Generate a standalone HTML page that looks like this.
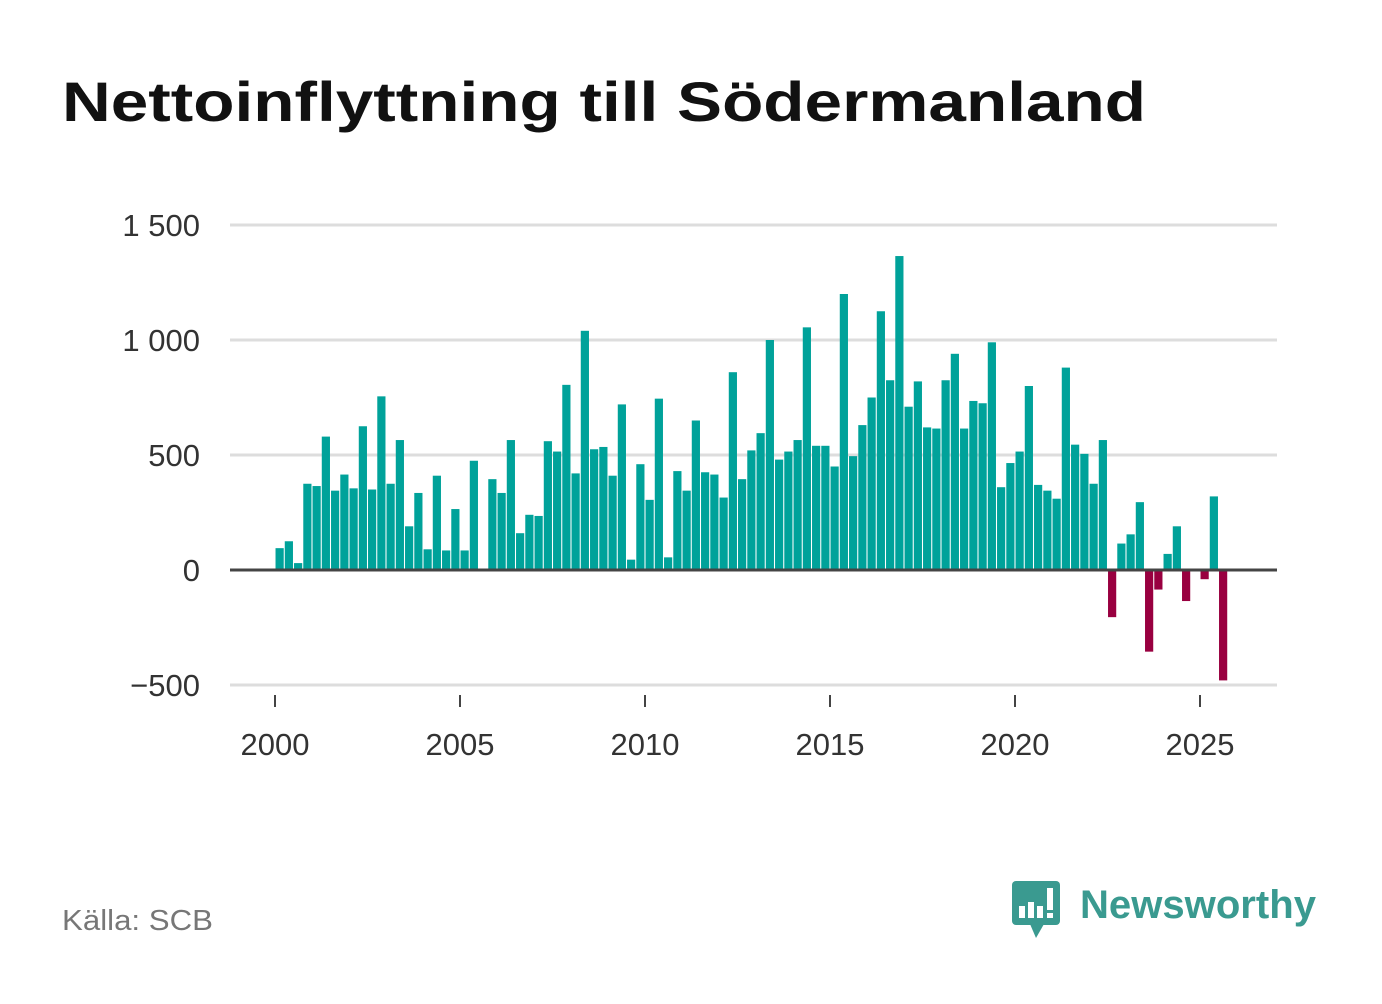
<!DOCTYPE html>
<html><head><meta charset="utf-8"><style>
body{margin:0;background:#fff;width:1382px;height:999px;overflow:hidden;font-family:"Liberation Sans","DejaVu Sans",sans-serif}
</style></head><body>
<svg width="1382" height="999" xmlns="http://www.w3.org/2000/svg">
<text x="62" y="121" font-size="56" font-weight="bold" fill="#111" textLength="1084" lengthAdjust="spacingAndGlyphs">Nettoinflyttning till Södermanland</text>
<g id="grid"></g><g id="bars"></g><g id="axes"></g>
<text x="62" y="930" font-size="29" fill="#777" textLength="151" lengthAdjust="spacingAndGlyphs">Källa: SCB</text>
<g>
<rect x="1012" y="881" width="48" height="44" rx="4" fill="#3a9a90"/>
<polygon points="1030,924 1044,924 1036,938" fill="#3a9a90"/>
<rect x="1019" y="906" width="6" height="12" fill="#fff"/>
<rect x="1028" y="902" width="6" height="16" fill="#fff"/>
<rect x="1037" y="906" width="6" height="12" fill="#fff"/>
<rect x="1047" y="888" width="6" height="22" fill="#fff"/>
<rect x="1047" y="913" width="6" height="5" fill="#fff"/>
<text x="1080" y="918" font-size="40" font-weight="bold" fill="#3a9a90" textLength="236" lengthAdjust="spacingAndGlyphs">Newsworthy</text>
</g>
</svg>
<script>
const years=[2000,2005,2010,2015,2020,2025];
const yTicks=[-500,0,500,1000,1500];
const yTickLabels=["\u2212500","0","500","1 000","1 500"];
const values=[95,125,30,375, 365,580,345,415, 355,625,350,755, 375,565,190,335,
90,410,85,265, 85,475,0,395, 335,565,160,240, 235,560,515,805,
420,1040,525,535, 410,720,45,460, 305,745,55,430, 345,650,425,415,
315,860,395,520, 595,1000,480,515, 565,1055,540,540, 450,1200,495,630,
750,1125,825,1365, 710,820,620,615, 825,940,615,735, 725,990,360,465,
515,800,370,345, 310,880,545,505, 375,565,-205,115, 155,295,-355,-85,
70,190,-135,0, -40,320,-480];
const NS="http://www.w3.org/2000/svg";
const xs=t=>275+(t-2000)*37;
const ys=v=>570-v*0.23;
function mk(tag,attrs,parent){const e=document.createElementNS(NS,tag);for(const k in attrs)e.setAttribute(k,attrs[k]);document.getElementById(parent).appendChild(e);return e;}
yTicks.forEach((v,i)=>{
 if(v!==0){const l=mk('line',{x1:230,x2:1277,y1:ys(v),y2:ys(v),stroke:'#ddd','stroke-width':3},'grid');
 
 }
 const t=mk('text',{x:200,y:ys(v)+11,'font-size':31,fill:'#333','text-anchor':'end'},'axes');t.textContent=yTickLabels[i];
 
 
});
values.forEach((v,i)=>{
 const cx=xs(2000+(i+0.5)/4);
 const r=mk('rect',{x:cx-4.1,y:Math.min(ys(v),570),width:8.2,height:Math.abs(v*0.23),fill:v<0?'#990040':'#00a29a'},'bars');
 
 
});
const z=mk('line',{x1:230,x2:1277,y1:570,y2:570,stroke:'#444','stroke-width':3},'axes');


years.forEach(y=>{
 const tk=mk('line',{x1:xs(y),x2:xs(y),y1:695,y2:707,stroke:'#444','stroke-width':2},'axes');
 
 
 const t=mk('text',{x:xs(y),y:755,'font-size':31,fill:'#333','text-anchor':'middle'},'axes');t.textContent=y;
 
 
});
</script>
</body></html>
